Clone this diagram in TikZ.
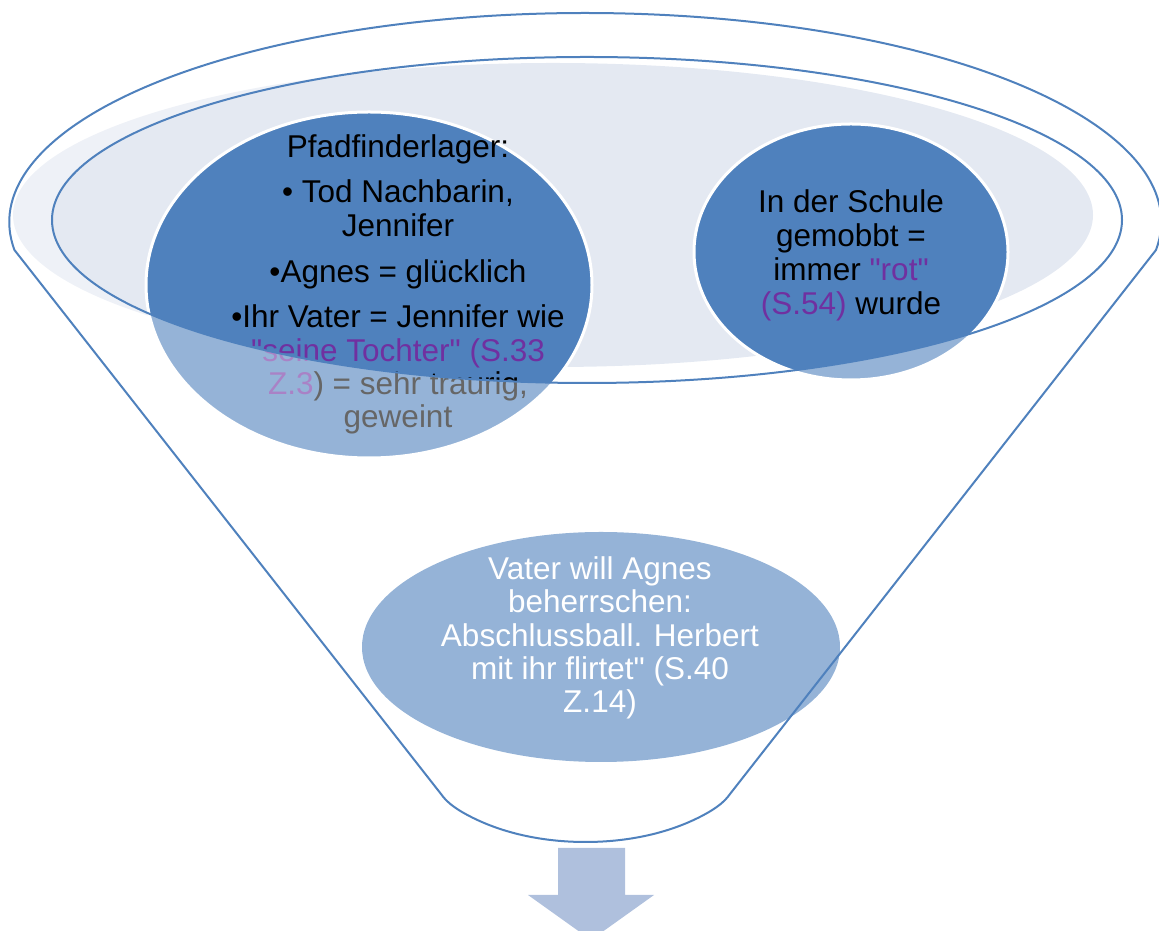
\documentclass[tikz,border=0pt]{standalone}
\usepackage{fontspec}
\setmainfont{Liberation Sans}[Ligatures={CommonOff,TeXOff}]
\usetikzlibrary{shapes.geometric}
\definecolor{accent}{HTML}{4F81BD}
\definecolor{lightacc}{HTML}{95B3D7}
\definecolor{rimfill}{HTML}{E4E9F2}
\definecolor{purp}{HTML}{7030A0}
\definecolor{arrowc}{HTML}{AFC0DD}
\tikzset{
  darkell/.style={ellipse, fill=accent, draw=white, line width=3pt, inner sep=0pt},
  lightell/.style={ellipse, fill=lightacc, inner sep=0pt},
  txt/.style={anchor=base, inner sep=0pt, font=\fontsize{31.5}{34}\selectfont},
  rim/.style={draw=accent, line width=2pt},
}
\def\funnelpath{(1156,681) arc[start angle=-7.7, end angle=187.7, x radius=576, y radius=209] -- (441,137) .. controls (446,130) and (452,125) .. (462,119) .. controls (500,97) and (545,89) .. (585.5,89) .. controls (626,89) and (671,97) .. (709,119) .. controls (719,125) and (725,130) .. (730,137) -- cycle}
\begin{document}
\begin{tikzpicture}[x=1pt,y=1pt]
\useasboundingbox (0,0) rectangle (1159,931);
\clip (0,0) rectangle (1159,931);
% rim fill
\fill[rimfill] (553,716) ellipse [x radius=540, y radius=152];
% upper ellipses
\node[darkell, minimum width=446pt, minimum height=346pt] (left) at (369,646) {};
\node[darkell, minimum width=314pt, minimum height=256pt] (right) at (851,679) {};
% left text
\node[txt] (l1) at (398,773) {Pfadfinderlager:};
\node[txt] (l2) at (398,728) {• Tod Nachbarin,};
\node[txt] (l3) at (398,694) {Jennifer};
\node[txt] (l4) at (398,648) {•Agnes = glücklich};
\node[txt] (l5) at (398,603) {•Ihr Vater = Jennifer wie};
\node[txt] (l6) at (398,569) {\color{purp}"seine Tochter" (S.33};
\node[txt] (l7) at (398,536) {{\color{purp}Z.3}) = sehr traurig,};
\node[txt] (l8) at (398,503) {geweint};
% right text
\node[txt] (r1) at (851,718) {In der Schule};
\node[txt] (r2) at (851,684) {gemobbt =};
\node[txt] (r3) at (851,650) {immer {\color{purp}"rot"}};
\node[txt] (r4) at (851,616) {{\color{purp}(S.54)} wurde};
% funnel overlay
\fill[white, fill opacity=0.4, even odd rule] \funnelpath (587,711) ellipse [x radius=535, y radius=163];
% bottom ellipse
\node[lightell, minimum width=478pt, minimum height=230pt] (bottom) at (601,284) {};
\node[txt, text=white] (b1) at (600,351) {Vater will Agnes};
\node[txt, text=white] (b2) at (600,318) {beherrschen:};
\node[txt, text=white] (b3) at (600,284) {Abschlussball. Herbert};
\node[txt, text=white] (b4) at (600,251) {mit ihr flirtet" (S.40};
\node[txt, text=white] (b5) at (600,218) {Z.14)};
% outlines
\draw[rim, line join=round] \funnelpath;
\draw[rim] (587,711) ellipse [x radius=535, y radius=163];
% arrow
\fill[arrowc] (558,83) -- (625,83) -- (625,36) -- (654,36) -- (591,-9) -- (528,36) -- (558,36) -- cycle;
\end{tikzpicture}
\end{document}
